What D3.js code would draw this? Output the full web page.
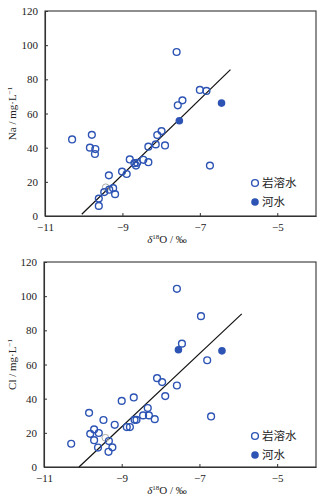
<!DOCTYPE html>
<html><head><meta charset="utf-8">
<script src="https://cdn.jsdelivr.net/npm/d3@7"></script>
<style>
body{margin:0;background:#fff;}
svg{display:block;}
</style></head>
<body>
<svg id="chart" width="330" height="503"></svg>
<script>
// ---------- data ----------
const xTicks = [-11, -9, -7, -5];
const yTicks = [0, 20, 40, 60, 80, 100, 120];
const legendLabels = ["岩溶水", "河水"];

// Na panel: karst water (open circles)
const naKarstX = [-10.30,-9.79,-9.84,-9.70,-9.71,-9.35,-9.01,-8.89,-8.81,-8.69,-8.65,-8.62,-8.46,-8.33,-8.33,-8.14,-8.10,-7.99,-7.90,-7.60,-7.57,-7.45,-7.00,-6.83,-6.74,-9.24,-9.34,-9.47,-9.19,-9.61,-9.61];
const naKarstY = [44.8,47.5,40.0,39.2,36.3,23.8,26.0,24.6,33.1,30.9,29.5,31.1,32.9,31.5,40.6,41.9,47.4,49.7,41.3,96.0,64.8,67.7,73.8,73.2,29.5,16.3,15.4,14.0,12.8,10.2,5.9];
const naOtherX = [-9.43];
const naOtherY = [16.8];
const naRiverX = [-7.53, -6.44];
const naRiverY = [55.8, 66.1];
const naFitX = [-10.05, -6.21];
const naFitY = [1.0, 85.7];

// Cl panel
const clKarstX = [-10.30,-9.84,-9.71,-9.81,-9.59,-9.71,-9.61,-9.47,-9.33,-9.24,-9.34,-9.18,-9.00,-8.87,-8.79,-8.69,-8.67,-8.62,-8.45,-8.33,-8.30,-8.15,-8.09,-7.96,-7.88,-7.58,-6.70,-7.58,-6.96,-7.45,-6.80];
const clKarstY = [13.6,31.7,22.0,19.4,19.9,15.7,11.4,27.5,15.2,11.5,8.9,24.7,38.7,23.4,23.4,40.7,27.6,27.6,30.2,34.5,30.2,28.0,52.0,49.7,41.5,47.7,29.6,104.3,88.3,72.2,62.5];
const clOtherX = [-9.42];
const clOtherY = [17.1];
const clRiverX = [-7.54, -6.42];
const clRiverY = [68.6, 68.0];
const clFitX = [-10.1, -5.91];
const clFitY = [0.0, 89.6];

// ---------- drawing ----------
const svg = d3.select("#chart");
const BLUE = "#2d54b4";
const SERIF = "'Liberation Serif','DejaVu Serif',serif";
const CJK = "'Noto Sans CJK SC','Noto Sans CJK TC',sans-serif";

function panel(o) {
  const x = d3.scaleLinear().domain([-11, -4]).range([o.left, o.right]);
  const y = d3.scaleLinear().domain([0, 120]).range([o.bottom, o.top]);
  const g = svg.append("g");

  // frame
  g.append("rect").attr("x", o.left).attr("y", o.top)
    .attr("width", o.right - o.left).attr("height", o.bottom - o.top)
    .attr("fill", "none").attr("stroke", "#333").attr("stroke-width", 1.1);

  // axes (inward ticks)
  const xa = g.append("g").attr("transform", `translate(0,${o.bottom})`)
    .call(d3.axisBottom(x).tickValues(xTicks).tickSizeInner(-3).tickSizeOuter(0).tickPadding(7)
      .tickFormat(d => d < 0 ? "\u2212" + Math.abs(d) : d));
  const ya = g.append("g").attr("transform", `translate(${o.left},0)`)
    .call(d3.axisLeft(y).tickValues(yTicks).tickSizeInner(-3).tickSizeOuter(0).tickPadding(7));
  [xa, ya].forEach(a => {
    a.select(".domain").attr("stroke", "#333").attr("stroke-width", 1.1);
    a.selectAll(".tick line").attr("stroke", "#333");
    a.selectAll("text").attr("font-family", SERIF).attr("font-size", 11).attr("fill", "#222");
  });

  // fit line
  const line = d3.line().x(d => x(d[0])).y(d => y(d[1]));
  g.append("path").datum(d3.zip(o.fitX, o.fitY)).attr("d", line)
    .attr("stroke", "#111").attr("stroke-width", 1.2).attr("fill", "none");

  // other (grey) point
  g.selectAll(".oth").data(d3.zip(o.otherX, o.otherY)).join("circle")
    .attr("cx", d => x(d[0])).attr("cy", d => y(d[1])).attr("r", 3.4)
    .attr("fill", "none").attr("stroke", "#aaa").attr("stroke-width", 1);

  // karst water
  g.selectAll(".karst").data(d3.zip(o.kX, o.kY)).join("circle")
    .attr("cx", d => x(d[0])).attr("cy", d => y(d[1])).attr("r", 3.4)
    .attr("fill", "none").attr("stroke", BLUE).attr("stroke-width", 1.4);

  // river water
  g.selectAll(".river").data(d3.zip(o.rX, o.rY)).join("circle")
    .attr("cx", d => x(d[0])).attr("cy", d => y(d[1])).attr("r", 3.8)
    .attr("fill", BLUE).attr("stroke", "none");

  // legend
  const lg = g.append("g");
  lg.append("circle").attr("cx", o.legX).attr("cy", o.legY).attr("r", 3.4)
    .attr("fill", "none").attr("stroke", BLUE).attr("stroke-width", 1.4);
  lg.append("circle").attr("cx", o.legX).attr("cy", o.legY + 19).attr("r", 3.8).attr("fill", BLUE);
  legendLabels.forEach((t, i) => {
    lg.append("text").attr("x", o.legX + 7).attr("y", o.legY + i * 19)
      .attr("dy", "0.36em").attr("font-family", CJK).attr("font-size", 11.5)
      .attr("fill", "#222").text(t);
  });

  // x title
  const xt = g.append("text").attr("x", 167).attr("y", o.bottom + 27)
    .attr("text-anchor", "middle").attr("font-family", SERIF).attr("font-size", 11).attr("fill", "#222");
  xt.append("tspan").attr("font-style", "italic").text("δ");
  xt.append("tspan").attr("font-size", 7).attr("dy", -4).text("18");
  xt.append("tspan").attr("dy", 4).text("O / ‰");

  // y title
  const yc = (o.top + o.bottom) / 2;
  const yt = g.append("text").attr("transform", `translate(16,${yc}) rotate(-90)`)
    .attr("text-anchor", "middle").attr("font-family", SERIF).attr("font-size", 11).attr("fill", "#222");
  yt.append("tspan").text(o.yName + " / mg·L");
  yt.append("tspan").attr("font-size", 7).attr("dy", -4).text("−1");
}

panel({left: 45, right: 316, top: 11, bottom: 216, kX: naKarstX, kY: naKarstY,
  otherX: naOtherX, otherY: naOtherY, rX: naRiverX, rY: naRiverY,
  fitX: naFitX, fitY: naFitY, legX: 255, legY: 183, yName: "Na"});
panel({left: 44, right: 316, top: 262, bottom: 467, kX: clKarstX, kY: clKarstY,
  otherX: clOtherX, otherY: clOtherY, rX: clRiverX, rY: clRiverY,
  fitX: clFitX, fitY: clFitY, legX: 255, legY: 436, yName: "Cl"});
</script>
</body></html>
